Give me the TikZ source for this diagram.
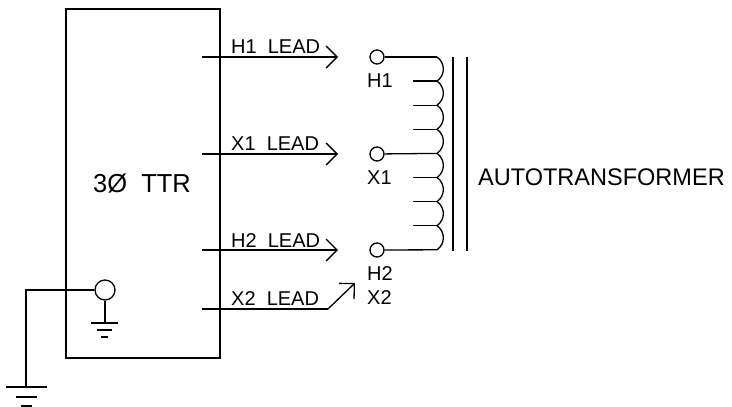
\documentclass[tikz,border=0pt]{standalone}
\usepackage{fontspec}
\setmainfont{Liberation Sans}
\usetikzlibrary{arrows.meta,positioning}

\tikzset{
  wire/.style={line width=1.3pt},
  lead/.style={wire,-{Straight Barb[length=11pt,width=22pt]}},
  term/.style={circle,draw,line width=1.3pt,inner sep=0pt,minimum size=14pt},
  lbl/.style={font=\fontsize{20}{20}\selectfont,inner sep=0pt,anchor=base west},
  biglbl/.style={font=\fontsize{24}{24}\selectfont,inner sep=0pt,xscale=.98,anchor=base west},
}

\begin{document}
\begin{tikzpicture}[x=1pt,y=1pt,on grid]
  \useasboundingbox (0,0) rectangle (732,-407);
  \path
  node[draw,wire,minimum width=154pt,minimum height=349pt,inner sep=0pt] (ttr) at (143,-183.5) {}
  node[term] (h1) at (377,-57) {}
  node[term] (x1) [below=97pt of h1] {}
  node[term] (h2) [below=96pt of x1] {}
  node[term,minimum size=20pt] (gnd) at (105,-290) {}
  ;
  % lead ends
  \coordinate (h1from) at (202,-57);
  \coordinate (x1from) at (202,-154);
  \coordinate (h2from) at (202,-250);
  \coordinate (x2from) at (202,-309);
  \coordinate (x2bend) at (328,-309);
  \coordinate (x2to) at (355,-283);
  \coordinate[left=39pt of h1] (h1to);
  \coordinate[left=39pt of x1] (x1to);
  \coordinate[left=39pt of h2] (h2to);

  \draw[lead] (h1from) -- (h1to);
  \draw[lead] (x1from) -- (x1to);
  \draw[lead] (h2from) -- (h2to);
  \draw[wire] (x2from) -- (x2bend);
  \draw[lead] (x2bend) -- (x2to);

  \node[lbl] (h1lead) at (231,-53) {H1\ \ LEAD};
  \node[lbl] (x1lead) at (231,-150) {X1\ \ LEAD};
  \node[lbl] (h2lead) at (231,-247) {H2\ \ LEAD};
  \node[lbl] (x2lead) at (231,-305) {X2\ \ LEAD};

  \node[lbl] (h1txt) at (367,-87) {H1};
  \node[lbl] (x1txt) at (367,-184) {X1};
  \node[lbl] (h2txt) at (367,-280) {H2};
  \node[lbl] (x2txt) at (367,-304) {X2};

  \node[biglbl,font=\fontsize{26}{26}\selectfont] (ttrtxt) at (93,-192) {3Ø\ \ TTR};
  \node[biglbl] (auto) at (478,-185) {AUTOTRANSFORMER};

  % winding
  \foreach \i in {0,...,8}
    \coordinate (t\i) at (437,{-57-24.1*\i});
  \foreach \i/\j in {0/1,1/2,2/3,3/4,4/5,5/6,6/7,7/8}
    \draw[wire] (t\i) to[out=-35,in=35,looseness=1.1] (t\j);
  \foreach \i in {1,2,3,5,6,7} {
    \coordinate (s\i) at (413,{-57-24.1*\i});
    \draw[wire] (s\i) -- (t\i);
  }
  \draw[wire] (h1) -- (t0);
  \draw[wire] (x1) -- (t4);
  \draw[wire] (h2) -- (t8);

  % core
  \coordinate (c1a) at (453,-57);
  \coordinate (c1b) at (453,-251);
  \coordinate (c2a) at (467,-57);
  \coordinate (c2b) at (467,-251);
  \draw[wire] (c1a) -- (c1b);
  \draw[wire] (c2a) -- (c2b);

  % grounds
  \coordinate (ga) at (26,-290);
  \coordinate (gb) at (26,-387);
  \coordinate (gc) at (105,-323);
  \draw[wire] (gnd) -- (ga) -- (gb);
  \draw[wire] (gnd) -- (gc);
  \draw[wire] (6,-387) -- (47,-387);
  \draw[wire] (16,-397) -- (37,-397);
  \draw[wire] (21,-406) -- (32,-406);
  \draw[wire] (91,-323) -- (118,-323);
  \draw[wire] (97,-330) -- (112,-330);
  \draw[wire] (101,-337) -- (108,-337);
\end{tikzpicture}
\end{document}
